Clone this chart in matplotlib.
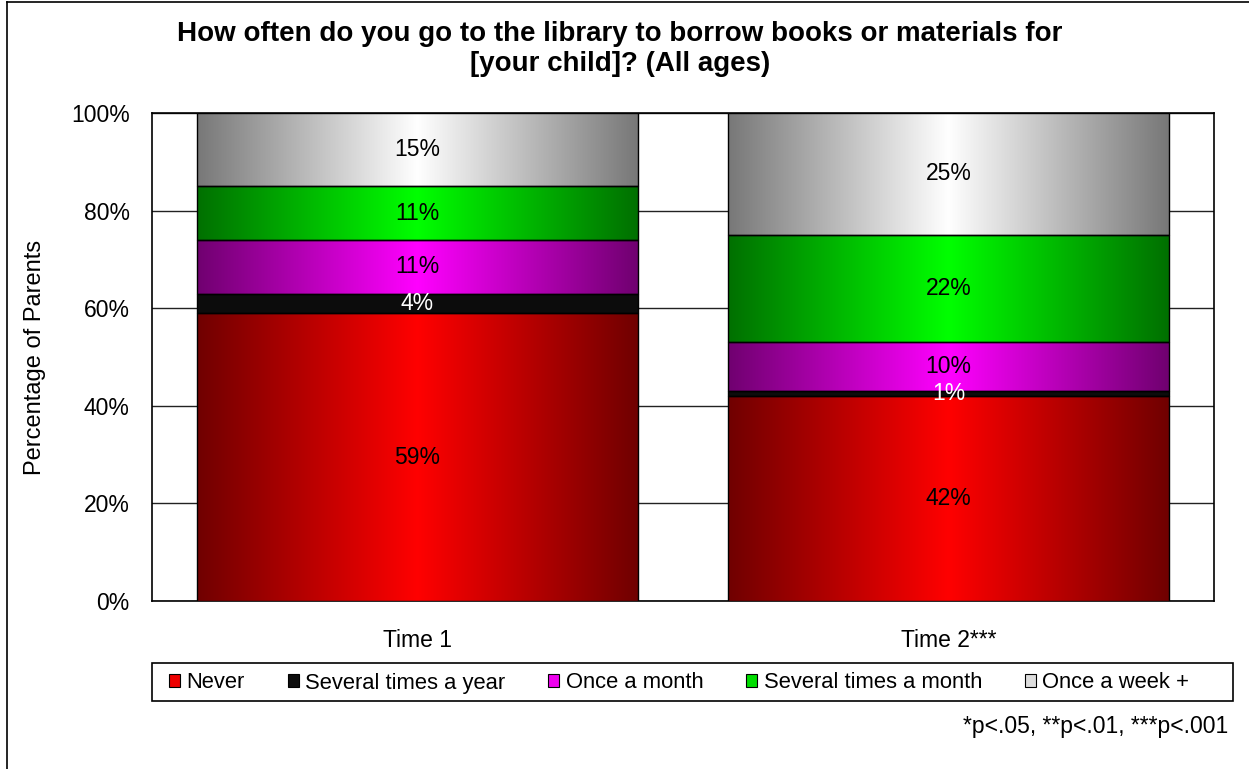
import matplotlib
matplotlib.use('Agg')
import matplotlib.pyplot as plt
import numpy as np
from matplotlib.patches import Patch, Rectangle
from matplotlib.lines import Line2D

plt.rcParams['font.family'] = ['Liberation Sans', 'DejaVu Sans']

# ---------------- data ----------------
categories = ['Time 1', 'Time 2***']
series_names = ['Never', 'Several times a year', 'Once a month',
                'Several times a month', 'Once a week +']
never = [59, 42]
several_year = [4, 1]
once_month = [11, 10]
several_month = [11, 22]
once_week = [15, 25]
yticks = [0, 20, 40, 60, 80, 100]
ytick_labels = ['0%', '20%', '40%', '60%', '80%', '100%']
title = 'How often do you go to the library to borrow books or materials for\n[your child]? (All ages)'
ylabel = 'Percentage of Parents'
footnote = '*p<.05, **p<.01, ***p<.001'

series = [never, several_year, once_month, several_month, once_week]
# (edge dark colour, centre bright colour) for gradients
grad_colors = [((0.44, 0, 0), (1, 0, 0)),
               ((0.05, 0.05, 0.05), (0.05, 0.05, 0.05)),
               ((0.44, 0, 0.44), (1, 0, 1)),
               ((0, 0.44, 0), (0, 1, 0)),
               ((0.47, 0.47, 0.47), (1, 1, 1))]
legend_colors = ['#ee0000', '#0d0d0d', '#ee00ee', '#00dd00', '#dddddd']
label_colors = ['black', 'white', 'black', 'black', 'black']

fig = plt.figure(figsize=(12.49, 7.69), dpi=100)
ax = fig.add_axes([152 / 1249, 1 - 601 / 769, 1062 / 1249, 488 / 769])

x = np.arange(len(categories))
width = 0.83
bottoms = np.zeros(len(categories))

t = np.linspace(0, 1, 256)
prof = 1 - np.abs(2 * t - 1)

for si, vals in enumerate(series):
    vals = np.array(vals, dtype=float)
    bars = ax.bar(x, vals, width, bottom=bottoms, facecolor='none',
                  edgecolor='black', linewidth=1.0, zorder=4)
    dark, bright = np.array(grad_colors[si][0]), np.array(grad_colors[si][1])
    img = dark[None, :] + (bright - dark)[None, :] * prof[:, None]
    img = img[None, :, :]
    for b, v, bot in zip(bars, vals, bottoms):
        x0, y0 = b.get_x(), b.get_y()
        ax.imshow(img, extent=(x0, x0 + b.get_width(), y0, y0 + b.get_height()),
                  aspect='auto', interpolation='bilinear', zorder=3)
        ax.text(x0 + b.get_width() / 2, bot + v / 2, f'{v:.0f}%',
                ha='center', va='center', fontsize=16.5,
                color=label_colors[si], zorder=5)
    bottoms = bottoms + vals

ax.set_xlim(-0.5, len(categories) - 0.5)
ax.set_ylim(0, 100)
ax.set_yticks(yticks)
ax.set_yticklabels(ytick_labels, fontsize=16.5)
ax.set_xticks(x)
ax.set_xticklabels(categories, fontsize=16.5)
ax.tick_params(axis='y', length=0, pad=16)
ax.tick_params(axis='x', length=0, pad=20)
ax.yaxis.grid(True, color='#222222', linewidth=1.0, zorder=0)
ax.set_axisbelow(True)
for s in ax.spines.values():
    s.set_color('black')
    s.set_linewidth(1.2)
ax.set_ylabel(ylabel, fontsize=17)
ax.yaxis.set_label_coords((46 - 152) / 1062, 0.5)

# legend box
fig.add_artist(Rectangle((152 / 1249, 1 - 701 / 769), 1081 / 1249, 38 / 769,
                         transform=fig.transFigure, facecolor='white',
                         edgecolor='black', linewidth=1.2, zorder=1))
handles = [Patch(facecolor=c, edgecolor='black', linewidth=0.8) for c in legend_colors]
leg = fig.legend(handles, series_names, loc='center left',
                 bbox_to_anchor=(169 / 1249, 1 - 683 / 769),
                 ncol=5, fontsize=15.8, frameon=False,
                 handlelength=0.5, handleheight=0.5,
                 handletextpad=0.3, columnspacing=1.95,
                 borderaxespad=0, borderpad=0)
leg.set_zorder(2)

fig.text(620 / 1249, 1 - 49 / 769, title, ha='center', va='center',
         fontsize=20, fontweight='bold', linespacing=1.2)
fig.text(1228 / 1249, 1 - 727 / 769, footnote, ha='right', va='center', fontsize=16.5)

# outer frame lines (left and top)
fig.add_artist(Line2D([7 / 1249, 7 / 1249], [0, 1 - 2 / 769], color='black',
                      linewidth=1.2, transform=fig.transFigure))
fig.add_artist(Line2D([7 / 1249, 1], [1 - 2 / 769, 1 - 2 / 769], color='black',
                      linewidth=1.2, transform=fig.transFigure))

fig.savefig('out.png', dpi=100)
